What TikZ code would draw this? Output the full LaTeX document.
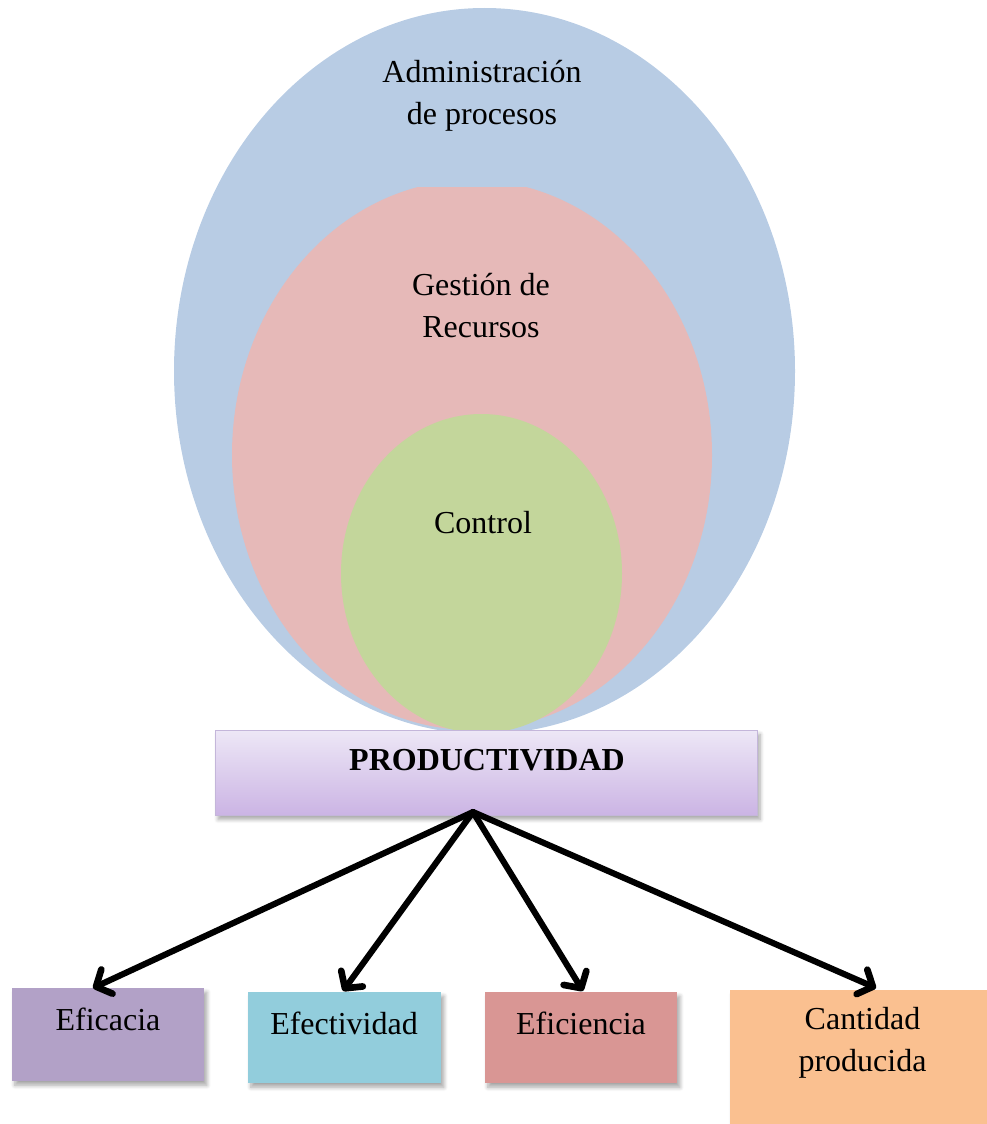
\documentclass[tikz,border=0pt]{standalone}
\usepackage{fontspec}
\setmainfont{Liberation Serif}
\usetikzlibrary{arrows.meta,shadows,shadows.blur,calc}

\definecolor{outerblue}{HTML}{B8CCE4}
\definecolor{midpink}{HTML}{E6B9B8}
\definecolor{innergreen}{HTML}{C3D69B}
\definecolor{prodtop}{HTML}{EDE7F6}
\definecolor{prodbot}{HTML}{CBB4E4}
\definecolor{prodedge}{HTML}{C4B6DA}
\definecolor{cEficacia}{HTML}{B2A1C7}
\definecolor{cEfectividad}{HTML}{92CDDC}
\definecolor{cEficiencia}{HTML}{D99694}
\definecolor{cCantidad}{HTML}{FAC090}

\tikzset{
  lbl/.style={font=\fontsize{24}{31.5}\selectfont, align=center, inner sep=0pt, anchor=base},
  outbox/.style={draw=none, inner sep=0pt, anchor=north west,
    blur shadow={shadow xshift=2pt, shadow yshift=-3pt, shadow blur steps=6, shadow blur radius=3pt, shadow opacity=35}},
  conn/.style={line width=4.6pt, line cap=round,
    -{Straight Barb[length=9pt, width=20pt, line width=5pt, round]}},
}

\begin{document}
\begin{tikzpicture}[x=0.75pt, y=-0.75pt]
  \useasboundingbox (0,0) rectangle (987,1124);

  % nested ellipses
  \fill[outerblue] (484.5,371) ellipse (310.5 and 363);
  \begin{scope}
    \clip (0,187) rectangle (987,1124);
    \fill[midpink] (472,455) ellipse (240 and 275);
  \end{scope}
  \fill[innergreen] (481.5,573.5) ellipse (140.5 and 159.5);

  % multi-line labels are anchored on the baseline of their last line
  \node[lbl] (admin) at (482,124) {Administración\\de procesos};
  \node[lbl] (gestion) at (481,337) {Gestión de\\Recursos};
  \node[lbl] (control) at (483,533) {Control};

  % central box
  \node[outbox, draw=prodedge, line width=0.6pt, top color=prodtop, bottom color=prodbot,
        minimum width=542*0.75pt, minimum height=85*0.75pt] (prod) at (215,730) {};
  \node[lbl, font=\fontsize{24}{31.5}\selectfont\bfseries] (prodtxt) at (487,770) {PRODUCTIVIDAD};

  % result boxes
  \node[outbox, fill=cEficacia, minimum width=192*0.75pt, minimum height=93*0.75pt] (eficacia) at (12,988) {};
  \node[outbox, fill=cEfectividad, minimum width=193*0.75pt, minimum height=91*0.75pt] (efectividad) at (248,992) {};
  \node[outbox, fill=cEficiencia, minimum width=192*0.75pt, minimum height=91*0.75pt] (eficiencia) at (485,992) {};
  \node[outbox, fill=cCantidad, minimum width=260*0.75pt, minimum height=140*0.75pt] (cantidad) at (730,990) {};

  \node[lbl] (t1) at (108,1030) {Eficacia};
  \node[lbl] (t2) at (344,1034) {Efectividad};
  \node[lbl] (t3) at (581,1034) {Eficiencia};
  \node[lbl] (t4) at (862.5,1071) {Cantidad\\producida};

  % connectors
  \coordinate (hub) at (473,812);
  \coordinate (a1) at (93,988);
  \coordinate (a2) at (343,991);
  \coordinate (a3) at (583,991);
  \coordinate (a4) at (876,988);
  \foreach \t in {a1,a2,a3,a4} \draw[conn] (hub) -- (\t);
\end{tikzpicture}
\end{document}
